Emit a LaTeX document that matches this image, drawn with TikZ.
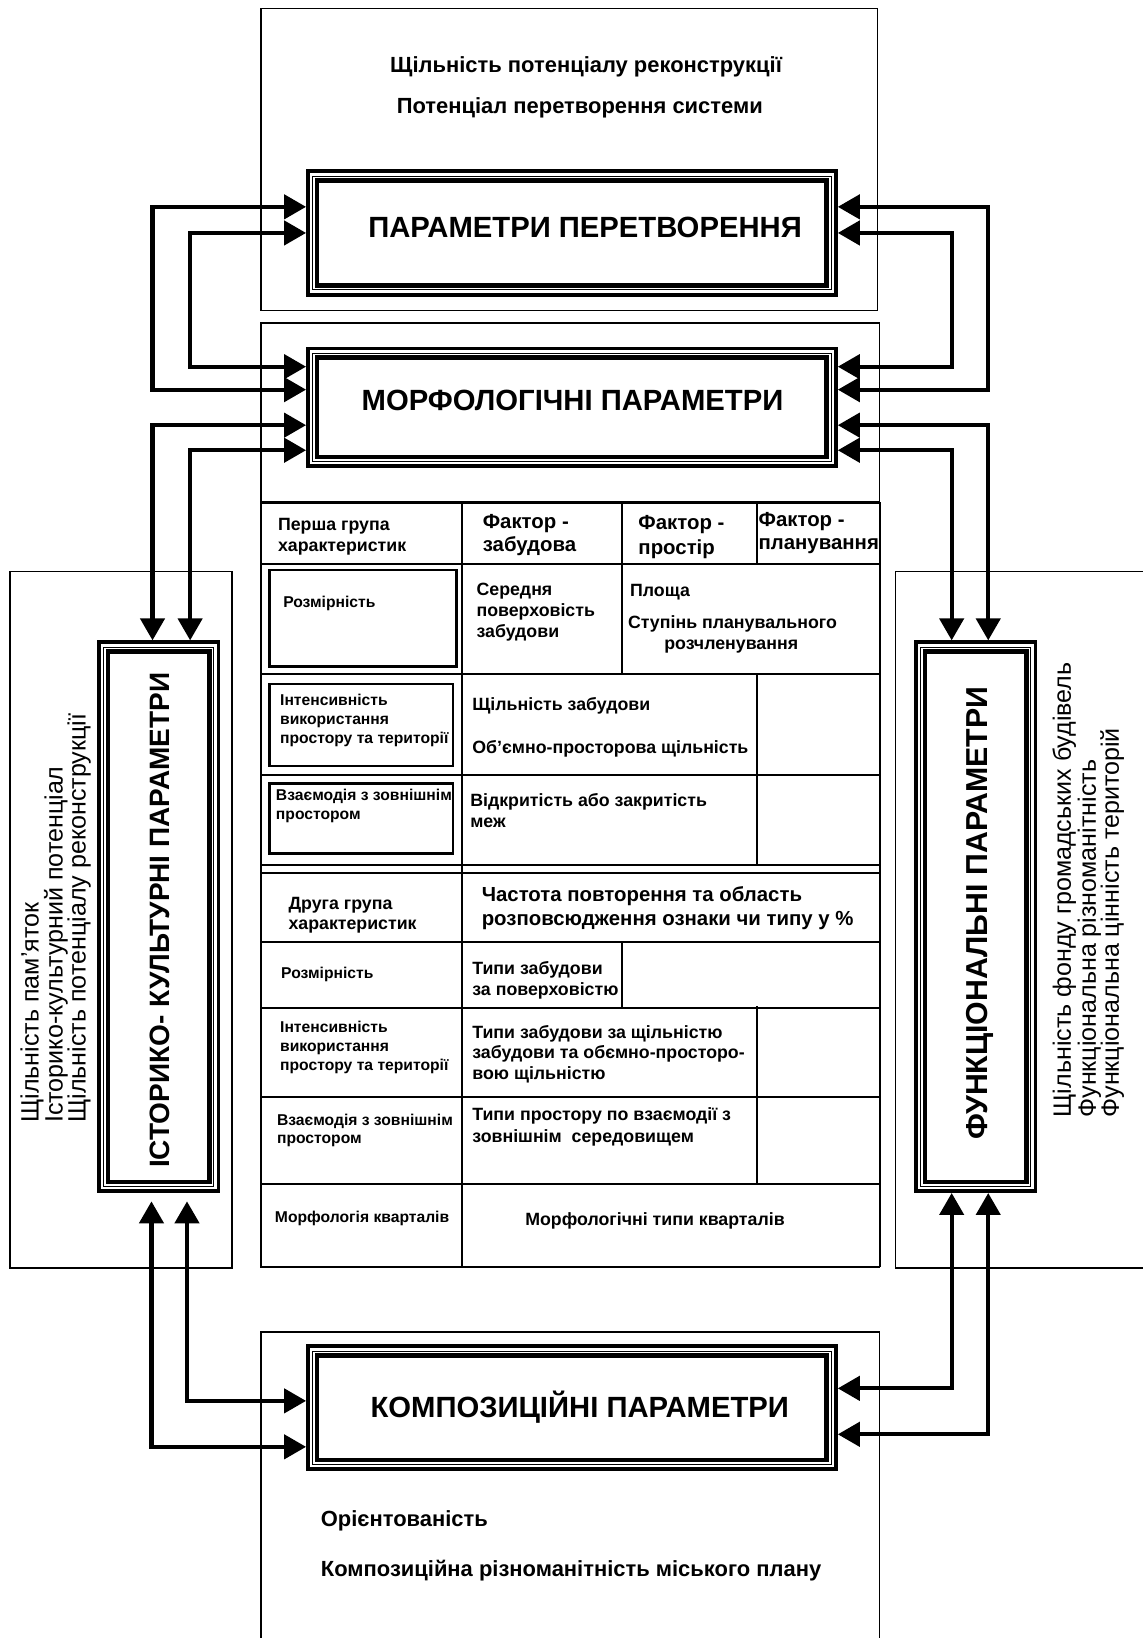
\documentclass[tikz,border=0pt]{standalone}
\usepackage{fontspec}
\setmainfont{Liberation Sans}
\usetikzlibrary{arrows.meta,calc}
\newcommand\myfs[1]{\fontsize{#1}{#1}\selectfont}
\newcommand\dframe[1]{%
 \draw[line width=3.5] ([xshift=1.75pt,yshift=-1.75pt]#1.north west) rectangle ([xshift=-1.75pt,yshift=1.75pt]#1.south east);
 \draw[line width=1] ([xshift=6.5pt,yshift=-6.5pt]#1.north west) rectangle ([xshift=-6.5pt,yshift=6.5pt]#1.south east);
 \draw[line width=4.5] ([xshift=10.5pt,yshift=-10.5pt]#1.north west) rectangle ([xshift=-10.5pt,yshift=10.5pt]#1.south east);
}
\begin{document}
\begin{tikzpicture}[x=1pt,y=-1pt,
  thinbox/.style={line width=1.4},
  tline/.style={line width=2},
  fr/.style={inner sep=0, outer sep=0, draw=none},
  arr/.style={line width=4, {Triangle[length=21pt,width=23pt]}-{Triangle[length=21pt,width=23pt]}},
  titletext/.style={font=\bfseries\myfs{28}, inner sep=0, anchor=base},
  sm/.style={font=\bfseries\myfs{15}, inner sep=0, anchor=base west},
  md/.style={font=\bfseries\myfs{17}, inner sep=0, anchor=base west},
  lg/.style={font=\bfseries\myfs{19.5}, inner sep=0, anchor=base west},
  xl/.style={font=\bfseries\myfs{21}, inner sep=0, anchor=base west},
  side/.style={font=\myfs{24}, inner sep=0, anchor=base west, rotate=90},
]
\useasboundingbox (0,0) rectangle (1094,1568);
\fill[white] (0,0) rectangle (1094,1568);

% container boxes
\draw[thinbox] (250,8) rectangle (840,297);
\draw[thinbox] (250,309) rectangle (842,1213);
\draw[thinbox] (9.6,547) rectangle (222,1214);
\draw[thinbox] (857,547) rectangle (1100,1214);
\draw[thinbox] (250,1275) rectangle (842,1575);

% frame nodes
\node[fr, minimum width=509, minimum height=122] (param) at (547.5,223) {};
\node[fr, minimum width=509, minimum height=116] (morph) at (547.5,390) {};
\node[fr, minimum width=509, minimum height=121] (komp) at (547.5,1347.5) {};
\node[fr, minimum width=118, minimum height=529] (icp) at (152,877.5) {};
\node[fr, minimum width=118, minimum height=529] (func) at (934,877.5) {};
\dframe{param}\dframe{morph}\dframe{komp}\dframe{icp}\dframe{func}

\node[titletext] (tparam) at (560,227) {ПАРАМЕТРИ ПЕРЕТВОРЕННЯ};
\node[titletext] (tmorph) at (548,393) {МОРФОЛОГІЧНІ ПАРАМЕТРИ};
\node[titletext] (tkomp) at (555,1357) {КОМПОЗИЦІЙНІ ПАРАМЕТРИ};
\node[titletext, font=\bfseries\myfs{26.8}, rotate=90] (ticp) at (162.5,881) {ІСТОРИКО- КУЛЬТУРНІ ПАРАМЕТРИ};
\node[titletext, font=\bfseries\myfs{29}, rotate=90] (tfunc) at (945.5,874) {ФУНКЦІОНАЛЬНІ ПАРАМЕТРИ};

% top texts
\node[xl, anchor=base] (top1) at (561,69.5) {Щільність потенціалу реконструкції};
\node[xl, anchor=base] (top2) at (555,108.5) {Потенціал перетворення системи};
% bottom texts
\node[xl] (bot1) at (307,1461.5) {Орієнтованість};
\node[xl] (bot2) at (307,1509.5) {Композиційна різноманітність міського плану};

% side texts
\node[side] (l1) at (37,1075) {Щільність пам’яток};
\node[side] (l2) at (60,1075) {Історико-культурний потенціал};
\node[side] (l3) at (82,1075) {Щільність потенціалу реконструкції};
\node[side] (r1) at (1025,1070) {Щільність фонду громадських будівель};
\node[side] (r2) at (1049,1070) {Функціональна різноманітність};
\node[side] (r3) at (1071,1070) {Функціональна цінність територій};

% table lines
\foreach \yy in {481,540,645,742,828,836,902,965,1050,1133,1213}
  \draw[tline] (250,\yy) -- (842,\yy);
\draw[tline] (250,481) -- (250,1213);
\draw[tline] (842,481) -- (842,1213);
\draw[tline] (442,481) -- (442,1213);
\draw[tline] (595,481) -- (595,645);
\draw[tline] (595,902) -- (595,965);
\draw[tline] (725,481) -- (725,540);
\draw[tline] (725,645) -- (725,828);
\draw[tline] (725,963) -- (725,1133);
% inner boxes
\draw[tline] (258,546) rectangle (437,638);
\draw[tline] (258,655) rectangle (434,733);
\draw[tline] (258,750) rectangle (434,817);

% table texts
\node[md] (h1a) at (266,508) {Перша група};
\node[md] (h1b) at (266,528) {характеристик};
\node[lg] (h2a) at (462,506) {Фактор -};
\node[lg] (h2b) at (462,528) {забудова};
\node[lg] (h3a) at (611,507) {Фактор -};
\node[lg] (h3b) at (611,531) {простір};
\node[lg] (h4a) at (726,504) {Фактор -};
\node[lg] (h4b) at (726,526) {планування};

\node[sm] (r2a) at (271,581.5) {Розмірність};
\node[md] (r2b1) at (456,570) {Середня};
\node[md] (r2b2) at (456,590) {поверховість};
\node[md] (r2b3) at (456,610) {забудови};
\node[md] (r2c1) at (603,571) {Площа};
\node[md] (r2c2) at (601,602) {Ступінь планувального};
\node[md, anchor=base] (r2c3) at (700,622) {розчленування};

\node[sm] (r3a1) at (268,675.5) {Інтенсивність};
\node[sm] (r3a2) at (268,693.5) {використання};
\node[sm] (r3a3) at (268,711.5) {простору та території};
\node[md] (r3b1) at (452,680) {Щільність забудови};
\node[md] (r3b2) at (452,721) {Об’ємно-просторова щільність};

\node[sm] (r4a1) at (264,766.5) {Взаємодія з зовнішнім};
\node[sm] (r4a2) at (264,784.5) {простором};
\node[md] (r4b1) at (450,772) {Відкритість або закритість};
\node[md] (r4b2) at (450,792) {меж};

\node[md] (r5a1) at (276,871) {Друга група};
\node[md] (r5a2) at (276,890) {характеристик};
\node[lg] (r5b1) at (461,863) {Частота повторення та область};
\node[lg] (r5b2) at (461,886) {розповсюдження ознаки чи типу у \%};

\node[sm] (r6a) at (269,936.5) {Розмірність};
\node[md] (r6b1) at (452,933) {Типи забудови};
\node[md] (r6b2) at (452,953) {за поверховістю};

\node[sm] (r7a1) at (268,988.5) {Інтенсивність};
\node[sm] (r7a2) at (268,1006.5) {використання};
\node[sm] (r7a3) at (268,1024.5) {простору та території};
\node[md] (r7b1) at (452,994) {Типи забудови за щільністю};
\node[md] (r7b2) at (452,1013) {забудови та обємно-просторо-};
\node[md] (r7b3) at (452,1033) {вою щільністю};

\node[sm] (r8a1) at (265,1077.5) {Взаємодія з зовнішнім};
\node[sm] (r8a2) at (265,1094.5) {простором};
\node[md] (r8b1) at (452,1073) {Типи простору по взаємодії з};
\node[md] (r8b2) at (452,1094) {зовнішнім\ \ середовищем};

\node[sm] (r9a) at (263,1170.5) {Морфологія кварталів};
\node[md, anchor=base] (r9b) at (627,1173) {Морфологічні типи кварталів};

% arrows left
\draw[arr] (param.west |- 0,198) -- (146,198) -- (146,373) -- (morph.west |- 0,373);
\draw[arr] (param.west |- 0,223) -- (182,223) -- (182,351) -- (morph.west |- 0,351);
\draw[arr] (morph.west |- 0,407) -- (146,407) -- (icp.north -| 146,0);
\draw[arr] (morph.west |- 0,431) -- (182,431) -- (icp.north -| 182,0);
\draw[arr] ($(icp.south -| 145,0)+(0,8)$) -- (145,1385) -- (komp.west |- 0,1385);
\draw[arr] ($(icp.south -| 179,0)+(0,8)$) -- (179,1341) -- (komp.west |- 0,1341);
% arrows right
\draw[arr] (param.east |- 0,198) -- (946,198) -- (946,373) -- (morph.east |- 0,373);
\draw[arr] (param.east |- 0,223) -- (911,223) -- (911,351) -- (morph.east |- 0,351);
\draw[arr] (morph.east |- 0,407) -- (946,407) -- (func.north -| 946,0);
\draw[arr] (morph.east |- 0,431) -- (911,431) -- (func.north -| 911,0);
\draw[arr] (func.south -| 911,0) -- (911,1329) -- (komp.east |- 0,1329);
\draw[arr] (func.south -| 946,0) -- (946,1373) -- (komp.east |- 0,1373);
\end{tikzpicture}
\end{document}
